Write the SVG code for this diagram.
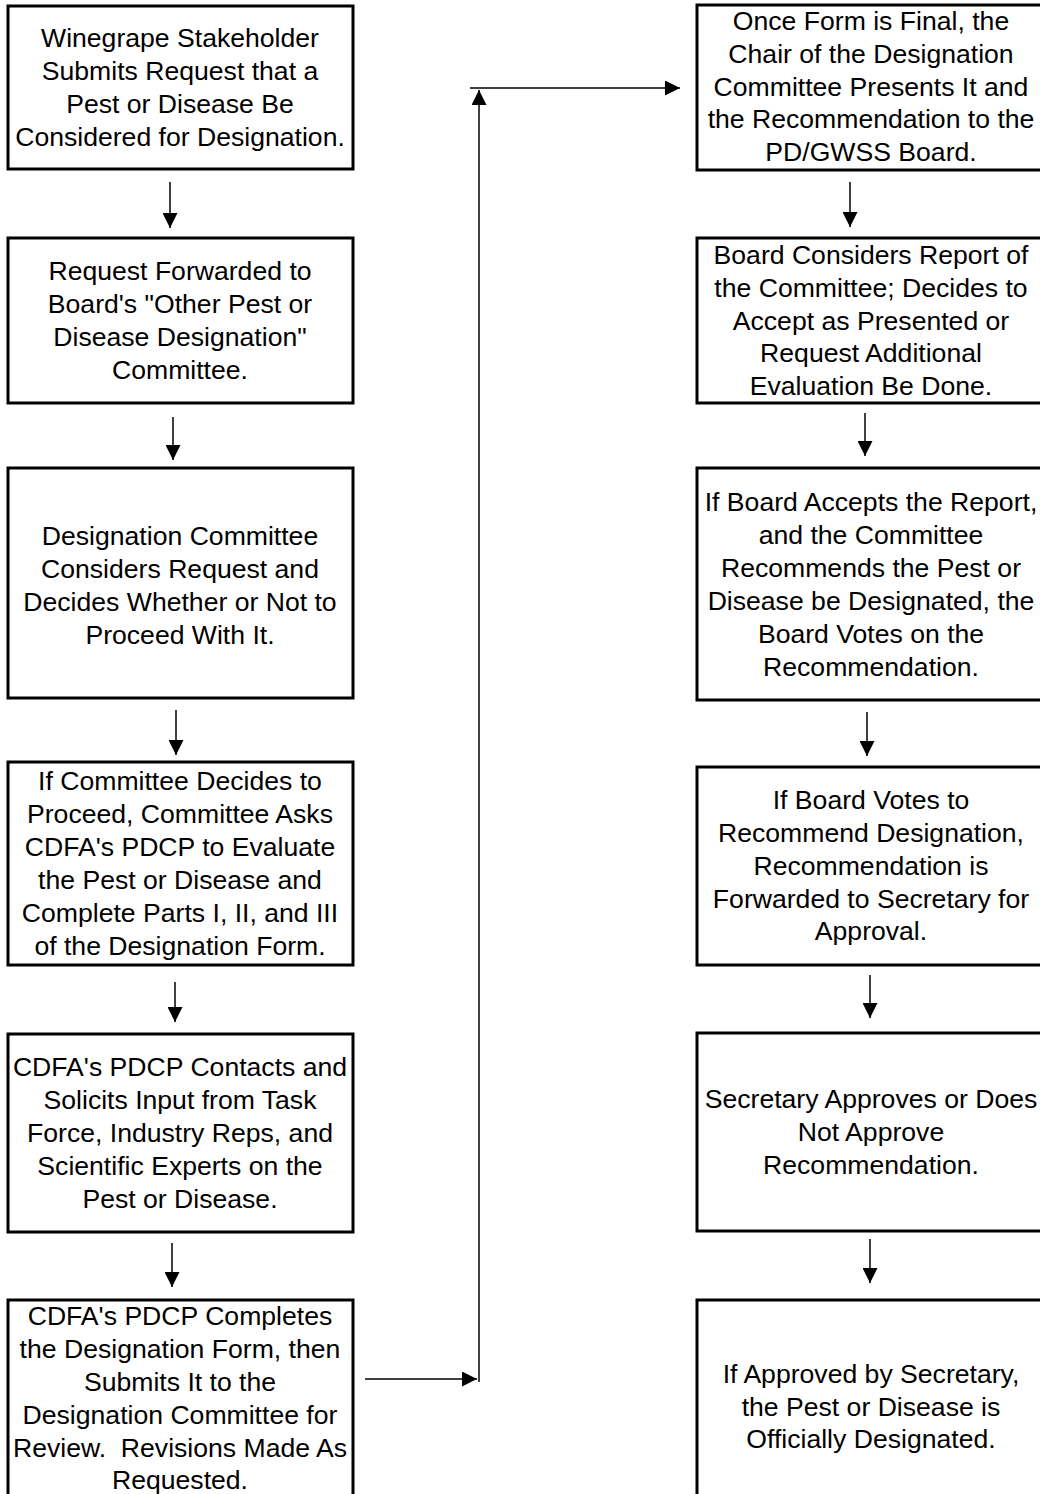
<svg xmlns="http://www.w3.org/2000/svg" width="1040" height="1494" viewBox="0 0 1040 1494">
<style>
.box{fill:#fff;stroke:#000;stroke-width:3}
.t{font-family:"Liberation Sans",Arial,sans-serif;font-size:26.6px;fill:#000;text-anchor:middle}
.c{stroke:#000;stroke-width:1.5;fill:none}
</style>
<defs>
<marker id="ah" viewBox="0 0 10 10" refX="10" refY="5" markerWidth="15" markerHeight="15" markerUnits="userSpaceOnUse" orient="auto">
<path d="M0,0 L10,5 L0,10 Z" fill="#000"/>
</marker>
</defs>
<rect width="1040" height="1494" fill="#fff"/>
<g id="connectors">
<line class="c" x1="170" y1="182" x2="170" y2="228" marker-end="url(#ah)"/>
<line class="c" x1="173" y1="417" x2="173" y2="460" marker-end="url(#ah)"/>
<line class="c" x1="176" y1="710" x2="176" y2="755" marker-end="url(#ah)"/>
<line class="c" x1="175" y1="982" x2="175" y2="1022" marker-end="url(#ah)"/>
<line class="c" x1="172" y1="1243" x2="172" y2="1287" marker-end="url(#ah)"/>
<line class="c" x1="365" y1="1379" x2="477" y2="1379" marker-end="url(#ah)"/>
<line class="c" x1="479" y1="1382" x2="479" y2="90" marker-end="url(#ah)"/>
<line class="c" x1="470" y1="88" x2="680" y2="88" marker-end="url(#ah)"/>
<line class="c" x1="850" y1="182" x2="850" y2="227" marker-end="url(#ah)"/>
<line class="c" x1="865" y1="413" x2="865" y2="456" marker-end="url(#ah)"/>
<line class="c" x1="867" y1="712" x2="867" y2="756" marker-end="url(#ah)"/>
<line class="c" x1="870" y1="975" x2="870" y2="1018" marker-end="url(#ah)"/>
<line class="c" x1="870" y1="1239" x2="870" y2="1283" marker-end="url(#ah)"/>
</g>
<g id="n1"><rect class="box" x="8" y="6" width="345" height="163"/>
<text class="t" x="180" y="47">Winegrape Stakeholder</text>
<text class="t" x="180" y="80">Submits Request that a</text>
<text class="t" x="180" y="113">Pest or Disease Be</text>
<text class="t" x="180" y="146">Considered for Designation.</text></g>
<g id="n2"><rect class="box" x="8" y="238" width="345" height="165"/>
<text class="t" x="180" y="280">Request Forwarded to</text>
<text class="t" x="180" y="313">Board's "Other Pest or</text>
<text class="t" x="180" y="346">Disease Designation"</text>
<text class="t" x="180" y="379">Committee.</text></g>
<g id="n3"><rect class="box" x="8" y="468" width="345" height="230"/>
<text class="t" x="180" y="545">Designation Committee</text>
<text class="t" x="180" y="578">Considers Request and</text>
<text class="t" x="180" y="611">Decides Whether or Not to</text>
<text class="t" x="180" y="644">Proceed With It.</text></g>
<g id="n4"><rect class="box" x="8" y="762" width="345" height="203"/>
<text class="t" x="180" y="790">If Committee Decides to</text>
<text class="t" x="180" y="823">Proceed, Committee Asks</text>
<text class="t" x="180" y="856">CDFA's PDCP to Evaluate</text>
<text class="t" x="180" y="889">the Pest or Disease and</text>
<text class="t" x="180" y="922">Complete Parts I, II, and III</text>
<text class="t" x="180" y="955">of the Designation Form.</text></g>
<g id="n5"><rect class="box" x="8" y="1034" width="345" height="198"/>
<text class="t" x="180" y="1076">CDFA's PDCP Contacts and</text>
<text class="t" x="180" y="1109">Solicits Input from Task</text>
<text class="t" x="180" y="1142">Force, Industry Reps, and</text>
<text class="t" x="180" y="1175">Scientific Experts on the</text>
<text class="t" x="180" y="1208">Pest or Disease.</text></g>
<g id="n6"><rect class="box" x="8" y="1300" width="345" height="210"/>
<text class="t" x="180" y="1325">CDFA's PDCP Completes</text>
<text class="t" x="180" y="1358">the Designation Form, then</text>
<text class="t" x="180" y="1391">Submits It to the</text>
<text class="t" x="180" y="1424">Designation Committee for</text>
<text class="t" x="180" y="1457" xml:space="preserve">Review.  Revisions Made As</text>
<text class="t" x="180" y="1489">Requested.</text></g>
<g id="n7"><rect class="box" x="697" y="5" width="350" height="165"/>
<text class="t" x="871" y="30">Once Form is Final, the</text>
<text class="t" x="871" y="63">Chair of the Designation</text>
<text class="t" x="871" y="96">Committee Presents It and</text>
<text class="t" x="871" y="128">the Recommendation to the</text>
<text class="t" x="871" y="161">PD/GWSS Board.</text></g>
<g id="n8"><rect class="box" x="697" y="238" width="350" height="165"/>
<text class="t" x="871" y="264">Board Considers Report of</text>
<text class="t" x="871" y="297">the Committee; Decides to</text>
<text class="t" x="871" y="330">Accept as Presented or</text>
<text class="t" x="871" y="362">Request Additional</text>
<text class="t" x="871" y="395">Evaluation Be Done.</text></g>
<g id="n9"><rect class="box" x="697" y="468" width="350" height="232"/>
<text class="t" x="871" y="511">If Board Accepts the Report,</text>
<text class="t" x="871" y="544">and the Committee</text>
<text class="t" x="871" y="577">Recommends the Pest or</text>
<text class="t" x="871" y="610">Disease be Designated, the</text>
<text class="t" x="871" y="643">Board Votes on the</text>
<text class="t" x="871" y="676">Recommendation.</text></g>
<g id="n10"><rect class="box" x="697" y="767" width="350" height="198"/>
<text class="t" x="871" y="809">If Board Votes to</text>
<text class="t" x="871" y="842">Recommend Designation,</text>
<text class="t" x="871" y="875">Recommendation is</text>
<text class="t" x="871" y="908">Forwarded to Secretary for</text>
<text class="t" x="871" y="940">Approval.</text></g>
<g id="n11"><rect class="box" x="697" y="1033" width="350" height="198"/>
<text class="t" x="871" y="1108">Secretary Approves or Does</text>
<text class="t" x="871" y="1141">Not Approve</text>
<text class="t" x="871" y="1174">Recommendation.</text></g>
<g id="n12"><rect class="box" x="697" y="1300" width="350" height="210"/>
<text class="t" x="871" y="1383">If Approved by Secretary,</text>
<text class="t" x="871" y="1416">the Pest or Disease is</text>
<text class="t" x="871" y="1448">Officially Designated.</text></g>
</svg>
